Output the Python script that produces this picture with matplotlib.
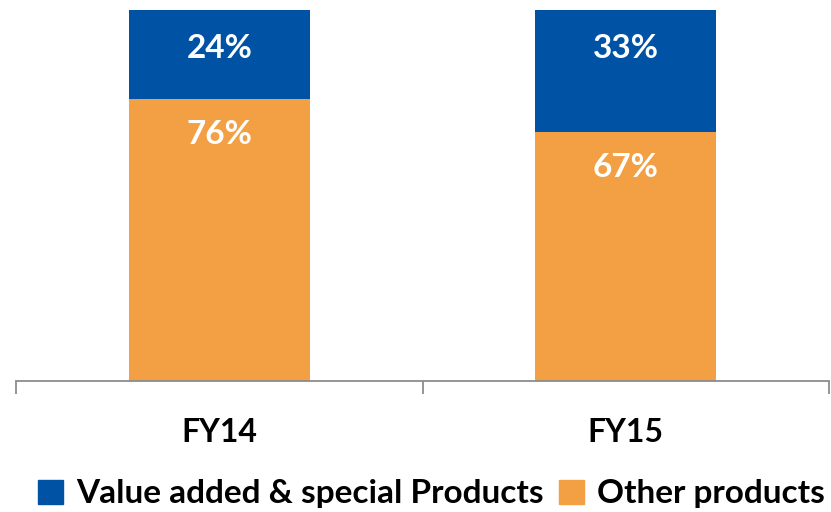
import matplotlib
matplotlib.use('Agg')
import matplotlib.pyplot as plt
from matplotlib.patches import Patch

plt.rcParams['font.family'] = ['Lato', 'DejaVu Sans']

years = ['FY14', 'FY15']
value_added = [24, 33]
other = [76, 67]

blue = '#0052A5'
orange = '#F2A043'
grey = '#8C8C8C'

fig = plt.figure(figsize=(8.31, 5.12), dpi=100)
ax = fig.add_axes([16/831, 131/512, 813/831, 371/512])

x = range(len(years))
ax.bar(x, other, width=0.445, color=orange)
ax.bar(x, value_added, width=0.445, bottom=other, color=blue)

# labels sit just inside the top end of each segment
for i in x:
    top = other[i] + value_added[i]
    ax.text(i, top - 10.3, '{}%'.format(value_added[i]),
            ha='center', va='center', color='white', fontsize=24, fontweight='bold')
    ax.text(i, other[i] - 9.5, '{}%'.format(other[i]),
            ha='center', va='center', color='white', fontsize=24, fontweight='bold')

ax.set_xlim(-0.5, 1.5)
ax.set_ylim(0, 100)
for s in ['top', 'left', 'right']:
    ax.spines[s].set_visible(False)
ax.spines['bottom'].set_color(grey)
ax.spines['bottom'].set_linewidth(1.3)
ax.set_yticks([])

ax.set_xticks(list(x))
ax.set_xticklabels(years, fontsize=23, fontweight='bold')
ax.tick_params(axis='x', which='major', length=0, pad=27)
ax.set_xticks([-0.5, 0.5, 1.5], minor=True)
ax.tick_params(axis='x', which='minor', length=9, width=1.3, color=grey, direction='out')

handles = [Patch(color=blue, label='Value added & special Products'),
           Patch(color=orange, label='Other products')]
fig.legend(handles=handles, ncol=2, loc='center', bbox_to_anchor=(0.519, 18/512),
           frameon=False, handlelength=0.75, handleheight=0.75, handletextpad=0.4,
           columnspacing=0.45, borderpad=0, prop={'size': 24, 'weight': 'bold'})

fig.savefig('out.png', dpi=100)
